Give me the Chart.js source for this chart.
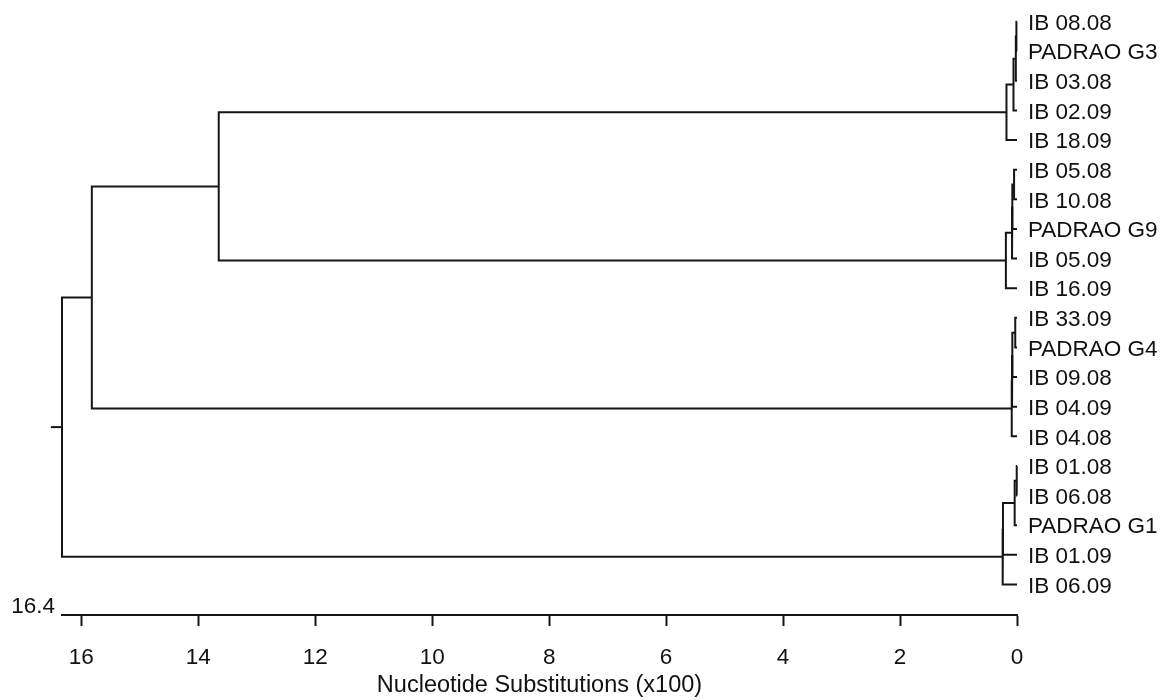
<!DOCTYPE html>
<html>
<head>
<meta charset="utf-8">
<title>Dendrogram</title>
<script src="https://cdn.jsdelivr.net/npm/chart.js@4.4.1/dist/chart.umd.min.js"></script>
<style>
  html, body { margin: 0; padding: 0; background: #ffffff; }
  #tree { display: block; }
</style>
</head>
<body>
<canvas id="tree" width="1173" height="700"></canvas>
<script>
// Leaves, top to bottom
const leafNames = [
  'IB 08.08', 'PADRAO G3', 'IB 03.08', 'IB 02.09', 'IB 18.09',
  'IB 05.08', 'IB 10.08', 'PADRAO G9', 'IB 05.09', 'IB 16.09',
  'IB 33.09', 'PADRAO G4', 'IB 09.08', 'IB 04.09', 'IB 04.08',
  'IB 01.08', 'IB 06.08', 'PADRAO G1', 'IB 01.09', 'IB 06.09'
];

// Merge k creates node 20 + k, joining mergeLeft[k] and mergeRight[k]
const mergeLeft   = [0, 20, 21, 22, 5, 24, 25, 26, 10, 28, 29, 30, 15, 32, 33, 34, 23, 36, 37];
const mergeRight  = [1, 2, 3, 4, 6, 7, 8, 9, 11, 12, 13, 14, 16, 17, 18, 19, 27, 31, 35];
const mergeHeight = [0.01, 0.02, 0.06, 0.18, 0.05, 0.08, 0.085, 0.19, 0.03, 0.08, 0.085, 0.09,
                     0.005, 0.04, 0.24, 0.245, 13.65, 15.82, 16.33];
const rootStub = 0.19;

// Axis
const xTicks = [16, 14, 12, 10, 8, 6, 4, 2, 0];
const scaleEnd = 16.33;
const scaleEndLabel = '16.4';
const axisTitle = 'Nucleotide Substitutions (x100)';

const lineColor = '#151515';
const textColor = '#111111';
const fontFamily = '"Liberation Sans", Arial, sans-serif';

/**
 * Work out y position and height of every node
 */
function buildNodes() {
  const nodeY = leafNames.map((_, i) => i);
  const nodeH = leafNames.map(() => 0);
  mergeLeft.forEach((a, k) => {
    const b = mergeRight[k];
    nodeY.push((nodeY[a] + nodeY[b]) / 2);
    nodeH.push(mergeHeight[k]);
  });
  return { nodeY, nodeH };
}

function buildDatasets() {
  const { nodeY, nodeH } = buildNodes();
  const sets = mergeLeft.map((a, k) => {
    const b = mergeRight[k];
    const h = mergeHeight[k];
    return [
      { x: nodeH[a], y: nodeY[a] },
      { x: h, y: nodeY[a] },
      { x: h, y: nodeY[b] },
      { x: nodeH[b], y: nodeY[b] }
    ];
  });

  // short stub left of the root
  const root = nodeY.length - 1;
  sets.push([
    { x: nodeH[root], y: nodeY[root] },
    { x: nodeH[root] + rootStub, y: nodeY[root] }
  ]);

  return sets.map(data => ({
    data: data,
    showLine: true,
    borderColor: lineColor,
    borderWidth: 2,
    pointRadius: 0,
    tension: 0,
    clip: false
  }));
}

// Leaf names and the scale end value
const labelPlugin = {
  id: 'leafLabels',
  afterDraw(chart) {
    const { ctx, chartArea, scales } = chart;
    ctx.save();
    ctx.fillStyle = textColor;
    ctx.font = '22.5px ' + fontFamily;
    ctx.textAlign = 'left';
    ctx.textBaseline = 'middle';
    leafNames.forEach((name, i) => {
      ctx.fillText(name, chartArea.right + 11, scales.y.getPixelForValue(i) + 2);
    });
    ctx.textAlign = 'right';
    ctx.fillText(scaleEndLabel, chartArea.left - 7, chartArea.bottom - 8);
    ctx.restore();
  }
};

new Chart(document.getElementById('tree'), {
  type: 'scatter',
  data: { datasets: buildDatasets() },
  plugins: [labelPlugin],
  options: {
    responsive: false,
    animation: false,
    layout: { padding: { left: 62, right: 156, top: 0, bottom: 0 } },
    plugins: {
      legend: { display: false },
      tooltip: { enabled: false }
    },
    scales: {
      x: {
        type: 'linear',
        reverse: true,
        min: 0,
        max: scaleEnd,
        afterBuildTicks: s => { s.ticks = xTicks.map(v => ({ value: v })); },
        afterFit: s => { s.height = 85; },
        border: { display: true, color: lineColor, width: 2 },
        grid: {
          drawOnChartArea: false,
          drawTicks: true,
          tickLength: 11,
          tickWidth: 2,
          color: lineColor,
          tickColor: lineColor
        },
        ticks: {
          color: textColor,
          font: { family: fontFamily, size: 22.5 },
          padding: 18,
          maxRotation: 0,
          autoSkip: false
        },
        title: {
          display: true,
          text: axisTitle,
          color: textColor,
          font: { family: fontFamily, size: 23.5 },
          padding: { top: 0, bottom: 0 }
        }
      },
      y: {
        type: 'linear',
        display: false,
        reverse: true,
        min: -0.73,
        max: 20.03
      }
    }
  }
});
</script>
</body>
</html>
